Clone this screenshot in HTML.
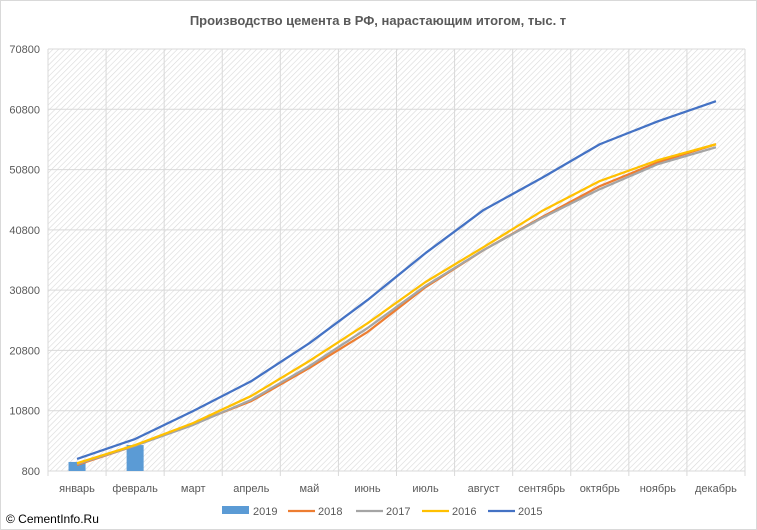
<!DOCTYPE html>
<html><head><meta charset="utf-8"><style>
body{margin:0;background:#fff;font-family:"Liberation Sans",sans-serif}
svg{display:block}
</style></head><body>
<svg id="c" width="757" height="530" xmlns="http://www.w3.org/2000/svg">
<defs><pattern id="hatch" width="4" height="4" patternUnits="userSpaceOnUse" patternTransform="rotate(45)"><rect width="4" height="4" fill="#fff"/><line x1="0" y1="0" x2="0" y2="4" stroke="#d9d9d9" stroke-width="1.2"/></pattern></defs>
<rect x="0.5" y="0.5" width="756" height="529" fill="#fff" stroke="#d9d9d9"/>
<text x="378" y="25" text-anchor="middle" font-size="13" font-weight="bold" fill="#595959">Производство цемента в РФ, нарастающим итогом, тыс. т</text>
<rect x="48" y="49" width="697" height="422" fill="url(#hatch)"/>
<g id="grid"></g><g id="bars"></g><g id="lines"></g><g id="axes"></g><g id="legend"></g>
<text x="6" y="523" font-size="12" fill="#000">© CementInfo.Ru</text>
</svg>
<script>
const categories=["январь","февраль","март","апрель","май","июнь","июль","август","сентябрь","октябрь","ноябрь","декабрь"];
const yTicks=[800,10800,20800,30800,40800,50800,60800,70800];
const s2019=[2300,5100];
const s2018=[1800,5000,8600,12400,17900,23850,31300,37450,42900,48050,52000,55000];
const s2017=[1950,5000,8450,12600,18200,24500,31500,37450,42750,47550,51700,54500];
const s2016=[2100,5100,8750,13250,19050,25300,32150,37950,43900,48900,52350,55000];
const s2015=[2800,6100,10750,15700,22000,29150,36950,44100,49400,55000,58800,62150];
const seriesNames=["2018","2017","2016","2015"];
const NS="http://www.w3.org/2000/svg";
const X0=48,X1=745,Y0=471,Y1=49,YMIN=800,YMAX=70800;
const bw=(X1-X0)/categories.length;
const xC=i=>X0+bw*(i+0.5);
const y=v=>Y0-(v-YMIN)/(YMAX-YMIN)*(Y0-Y1);
function mk(t,a,p){const e=document.createElementNS(NS,t);for(const k in a)e.setAttribute(k,a[k]);p.appendChild(e);return e;}
const grid=document.getElementById('grid'),axes=document.getElementById('axes');
yTicks.forEach(v=>{
 const l=mk('line',{x1:X0,x2:X1,y1:y(v),y2:y(v),stroke:'#d9d9d9'},grid);
 
 
 const t=mk('text',{x:40,y:y(v)+4,'text-anchor':'end','font-size':'11',fill:'#595959'},axes);
 t.textContent=v;
 
 
});
for(let i=0;i<=categories.length;i++){
 const l=mk('line',{x1:X0+bw*i,x2:X0+bw*i,y1:Y1,y2:Y0+5,stroke:'#d9d9d9'},grid);
 
 
}
categories.forEach((c,i)=>{
 const t=mk('text',{x:xC(i),y:Y0+21,'text-anchor':'middle','font-size':'11',fill:'#595959'},axes);
 t.textContent=c;
 
 
});
const bars=document.getElementById('bars');
s2019.forEach((v,i)=>{
 const r=mk('rect',{x:xC(i)-8.5,y:y(v),width:17,height:Y0-y(v),fill:'#5b9bd5'},bars);
 
 
});
const colors=['#ed7d31','#a5a5a5','#ffc000','#4472c4'];
const lines=document.getElementById('lines');
[s2018,s2017,s2016,s2015].forEach((s,k)=>{
 const p=mk('polyline',{points:s.map((v,i)=>xC(i)+','+y(v)).join(' '),fill:'none',stroke:colors[k],'stroke-width':'2.25','stroke-linejoin':'round'},lines);
 
 
});
const lg=document.getElementById('legend');
const lx=[222,288,356,422,488];
const ent=mk('g',{},lg);


mk('rect',{x:lx[0],y:506,width:27,height:8,fill:'#5b9bd5'},ent);
const t0=mk('text',{x:lx[0]+31,y:515,'font-size':'11',fill:'#595959'},ent);t0.textContent='2019';
seriesNames.forEach((n,k)=>{
 const g=mk('g',{},lg);
 
 
 mk('line',{x1:lx[k+1],x2:lx[k+1]+27,y1:511,y2:511,stroke:colors[k],'stroke-width':'2.25'},g);
 const t=mk('text',{x:lx[k+1]+30,y:515,'font-size':'11',fill:'#595959'},g);t.textContent=n;
});
</script>
</body></html>
